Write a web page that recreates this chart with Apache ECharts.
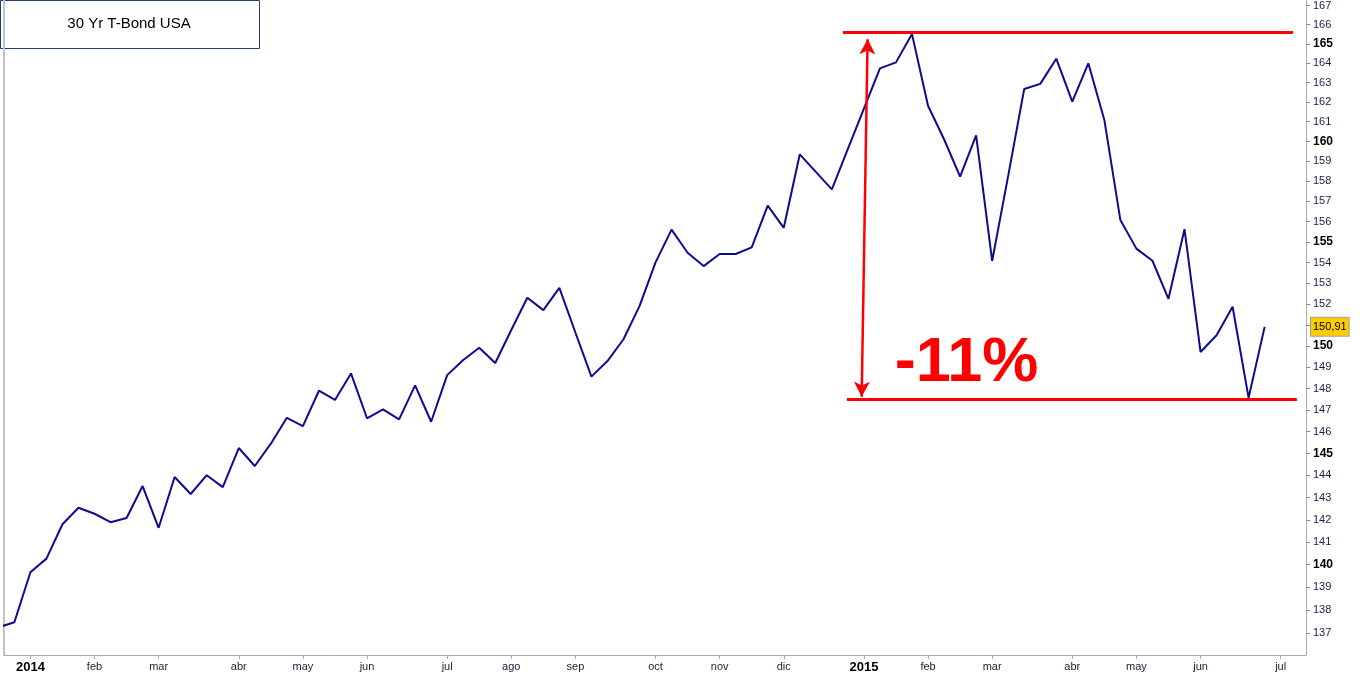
<!DOCTYPE html>
<html><head><meta charset="utf-8">
<script src="https://cdn.jsdelivr.net/npm/echarts@6/dist/echarts.min.js"></script>
<style>html,body{margin:0;padding:0;background:#fff}#c{width:1362px;height:675px}</style>
</head><body><div id="c"></div>
<script>
// ---------- data ----------
const titleText = '30 Yr T-Bond USA';
const firstWeek = '2013-12-23';          // weekly bars (Mondays)
const prices = [
  137.26, 137.48, 139.67, 140.27, 141.80, 142.54, 142.27, 141.89, 142.08, 143.52,
  141.64, 143.93, 143.16, 144.01, 143.47, 145.25, 144.43, 145.45, 146.64, 146.26,
  147.90, 147.47, 148.71, 146.62, 147.03, 146.57, 148.15, 146.46, 148.63, 149.34,
  149.92, 149.20, 150.76, 152.30, 151.71, 152.78, 150.64, 148.56, 149.29, 150.32,
  151.90, 154.01, 155.61, 154.48, 153.83, 154.42, 154.42, 154.74, 156.79, 155.70,
  159.35, 158.47, 157.60, 159.62, 161.66, 163.73, 164.04, 165.51, 161.81, 160.11,
  158.23, 160.31, 154.08, 158.27, 162.67, 162.93, 164.23, 162.02, 163.99, 161.09,
  156.08, 154.68, 154.09, 152.25, 155.63, 149.72, 150.51, 151.87, 147.57, 150.91
];
const lastValue = 150.91;
const lastLabel = '150,91';
const xTickDates = ['2014-01-06','2014-02-03','2014-03-03','2014-04-07','2014-05-05','2014-06-02',
  '2014-07-07','2014-08-04','2014-09-01','2014-10-06','2014-11-03','2014-12-01',
  '2015-01-05','2015-02-02','2015-03-02','2015-04-06','2015-05-04','2015-06-01','2015-07-06'];
const xTickLabels = ['2014','feb','mar','abr','may','jun','jul','ago','sep','oct','nov','dic',
  '2015','feb','mar','abr','may','jun','jul'];
const yTicks = [137,138,139,140,141,142,143,144,145,146,147,148,149,150,151,152,153,154,155,156,157,158,159,160,161,162,163,164,165,166,167];
const yLabels = [137,138,139,140,141,142,143,144,145,146,147,148,149,150,152,153,154,155,156,157,158,159,160,161,162,163,164,165,166,167];
const rangeHigh = 165.6;
const rangeLow = 147.5;
const rangeText = '-11%';

// ---------- build ----------
const DAY = 86400000, WEEK = 7 * DAY;
const t0 = Date.parse(firstWeek + 'T00:00:00Z');
const base = Date.parse('2014-01-06T00:00:00Z');
const wk = k => base + k * WEEK;     // week offset -> time
const L = Math.log;
const seriesData = prices.map((p, i) => [t0 + i * WEEK, L(p)]);
const xTickTimes = xTickDates.map(d => Date.parse(d + 'T00:00:00Z'));
const labelOf = {};
xTickTimes.forEach((t, i) => labelOf[t] = xTickLabels[i]);
const xMin = wk(-1.647), xMax = wk(79.58);

const chart = echarts.init(document.getElementById('c'), null, {renderer: 'canvas'});
chart.setOption({
  animation: false,
  backgroundColor: '#fff',
  textStyle: {fontFamily: '"Liberation Sans", Arial, sans-serif'},
  grid: {left: 4, right: 56, top: 0, bottom: 20, containLabel: false},
  xAxis: {
    type: 'value',
    min: xMin, max: xMax,
    axisLine: {show: true, lineStyle: {color: '#aaaaaa', width: 1}},
    axisTick: {show: true, customValues: xTickTimes, length: 4, lineStyle: {color: '#aaaaaa'}},
    splitLine: {show: false},
    axisLabel: {
      customValues: xTickTimes, margin: 6,
      formatter: v => { const s = labelOf[v] || ''; return /^\d{4}$/.test(s) ? '{y|' + s + '}' : '{m|' + s + '}'; },
      rich: {
        y: {fontSize: 13, fontWeight: 'bold', color: '#000'},
        m: {fontSize: 11, color: '#1e1a40'}
      }
    }
  },
  yAxis: [{
    type: 'value', position: 'right',
    min: L(136.07), max: L(167.30),
    axisLine: {show: true, lineStyle: {color: '#aaaaaa', width: 1}},
    axisTick: {show: true, customValues: yTicks.map(L), length: 4, lineStyle: {color: '#888'}},
    splitLine: {show: false},
    axisLabel: {
      customValues: yLabels.map(L), margin: 7,
      formatter: v => { const n = Math.round(Math.exp(v)); return n % 5 === 0 ? '{b|' + n + '}' : '{r|' + n + '}'; },
      rich: {
        b: {fontSize: 12, fontWeight: 'bold', color: '#000'},
        r: {fontSize: 11, color: '#24184a'}
      }
    }
  }, {
    type: 'value', position: 'left',
    min: L(136.07), max: L(167.30),
    axisLine: {show: true, onZero: false, lineStyle: {color: '#c4c4c4', width: 2}},
    axisTick: {show: false}, axisLabel: {show: false}, splitLine: {show: false}
  }],
  graphic: [{
    type: 'group', left: 0, top: 0,
    children: [
      {type: 'rect', shape: {x: 0.5, y: 0.5, width: 259, height: 48},
       style: {fill: '#fff', stroke: '#1f3d73', lineWidth: 1}},
      {type: 'text', x: 129, y: 24,
       style: {text: titleText, font: '15px "Liberation Sans", Arial', fill: '#000', align: 'center', verticalAlign: 'middle'}}
    ]
  }],
  series: [{
    type: 'line',
    data: seriesData,
    showSymbol: false, symbol: 'none',
    lineStyle: {color: '#0c0c90', width: 2},
    clip: true,
    z: 2,
    markLine: {
      silent: true, symbol: 'none', z: 5,
      label: {show: false},
      data: [
        [{coord: [wk(50.69), L(rangeHigh)], lineStyle: {color: '#ff0000', width: 3, type: 'solid'}},
         {coord: [wk(78.77), L(rangeHigh)]}],
        [{coord: [wk(50.94), L(rangeLow)], lineStyle: {color: '#ff0000', width: 3, type: 'solid'}},
         {coord: [wk(79.01), L(rangeLow)]}],
        [{coord: [wk(52.23), L(165.24)], symbol: 'arrow', symbolSize: [12, 15],
          lineStyle: {color: '#ff0000', width: 2.5, type: 'solid'}},
         {coord: [wk(51.86), L(147.62)], symbol: 'arrow', symbolSize: [12, 15]}]
      ]
    },
    markPoint: {
      silent: true, symbol: 'circle', symbolSize: 0,
      data: [{coord: [wk(58.40), L(149.19)],
        label: {show: true, position: 'inside', formatter: rangeText,
          fontSize: 63, fontWeight: 'bold', color: '#ff0000', fontFamily: '"Liberation Sans", Arial'}}]
    }
  }, {
    type: 'line',
    data: [],
    silent: true,
    markPoint: {
      silent: true, symbol: 'circle', symbolSize: 0, z: 6,
      data: [{coord: [xMax, L(lastValue)],
        label: {show: true, position: 'right', distance: 5, formatter: lastLabel,
          fontSize: 11, color: '#000', backgroundColor: '#ffcc00', borderColor: '#a0a0a0',
          borderWidth: 1, padding: [4, 2, 3, 2]}}]
    }
  }]
});
</script>
</body></html>
